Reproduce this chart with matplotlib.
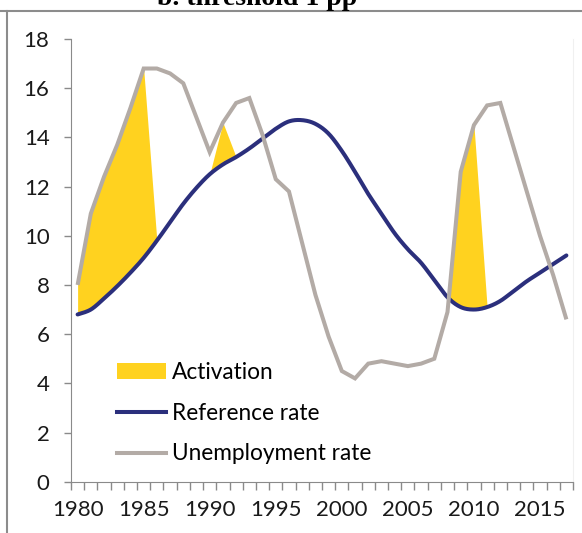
import numpy as np
import matplotlib
matplotlib.use("Agg")
import matplotlib.pyplot as plt
from matplotlib.patches import Patch
from matplotlib.lines import Line2D

# ---------------- data ----------------
years = list(range(1980, 2018))
unemployment = [8.0, 10.9, 12.4, 13.7, 15.2, 16.8, 16.8, 16.6, 16.2, 14.8,
                13.4, 14.6, 15.4, 15.6, 14.1, 12.3, 11.8, 9.7, 7.6, 5.9,
                4.5, 4.2, 4.8, 4.9, 4.8, 4.7, 4.8, 5.0, 6.9, 12.6,
                14.5, 15.3, 15.4, 13.6, 11.8, 10.0, 8.4, 6.6]
reference = [6.8, 7.0, 7.45, 7.95, 8.5, 9.1, 9.8, 10.55, 11.3, 11.95,
             12.5, 12.9, 13.2, 13.55, 13.95, 14.35, 14.65, 14.7, 14.55, 14.15,
             13.45, 12.6, 11.7, 10.9, 10.1, 9.45, 8.9, 8.2, 7.5, 7.1,
             7.0, 7.1, 7.35, 7.75, 8.15, 8.5, 8.85, 9.2]
activation = [1.2, 3.9, 4.95, 5.75, 6.7, 7.7, 0, 0, 0, 0,
              0, 1.7, 0, 0, 0, 0, 0, 0, 0, 0,
              0, 0, 0, 0, 0, 0, 0, 0, 0, 5.5,
              7.5, 0, 0, 0, 0, 0, 0, 0]
xtick_labels = ["1980", "1985", "1990", "1995", "2000", "2005", "2010", "2015"]
yticks = [0, 2, 4, 6, 8, 10, 12, 14, 16, 18]
title = "b. threshold 1 pp"
legend_labels = ["Activation", "Reference rate", "Unemployment rate"]

# ---------------- style ----------------
YELLOW = "#FFD21F"
NAVY = "#2B2F7C"
GRAY = "#B3ABA6"
AXGRAY = "#8A8A8A"
FONT = "Lato"

plt.rcParams["font.family"] = [FONT, "DejaVu Sans"]


def smooth(x, y, n=20):
    """Excel-like smoothed curve via Catmull-Rom Bezier segments."""
    x = np.asarray(x, float)
    y = np.asarray(y, float)
    px, py = [], []
    m = len(x)
    for i in range(m - 1):
        x0, y0 = (x[i - 1], y[i - 1]) if i > 0 else (x[i], y[i])
        x1, y1 = x[i], y[i]
        x2, y2 = x[i + 1], y[i + 1]
        x3, y3 = (x[i + 2], y[i + 2]) if i + 2 < m else (x2, y2)
        c1x, c1y = x1 + (x2 - x0) / 6, y1 + (y2 - y0) / 6
        c2x, c2y = x2 - (x3 - x1) / 6, y2 - (y3 - y1) / 6
        t = np.linspace(0, 1, n, endpoint=(i == m - 2))
        b0 = (1 - t) ** 3
        b1 = 3 * (1 - t) ** 2 * t
        b2 = 3 * (1 - t) * t ** 2
        b3 = t ** 3
        px.append(b0 * x1 + b1 * c1x + b2 * c2x + b3 * x2)
        py.append(b0 * y1 + b1 * c1y + b2 * c2y + b3 * y2)
    return np.concatenate(px), np.concatenate(py)


W, H = 582, 533
fig = plt.figure(figsize=(W / 100, H / 100), dpi=100)
ax = fig.add_axes([71 / W, 1 - 481.7 / H, (573 - 71) / W, (481.7 - 39) / H])

yrs = np.array(years, float)
ref = np.array(reference)
act = np.array(activation)

ax.fill_between(yrs, ref, ref + act, color=YELLOW, linewidth=0, zorder=1)
sx, sy = smooth(yrs, ref)
ax.plot(sx, sy, color=NAVY, lw=2.9, solid_capstyle="round", zorder=2)
ax.plot(yrs, unemployment, color=GRAY, lw=2.9, solid_joinstyle="miter",
        solid_capstyle="butt", zorder=3)

ax.set_xlim(1979.5, 2017.5)
ax.set_ylim(0, 18)

ax.set_yticks(yticks)
ax.set_yticklabels([str(v) for v in yticks])
ax.set_xticks([int(s) for s in xtick_labels])
ax.set_xticklabels(xtick_labels)
ax.set_xticks(np.arange(1979.5, 2018.0, 1.0), minor=True)

ax.tick_params(axis="y", which="major", direction="out", length=5, width=1,
               color=AXGRAY, labelsize=16, pad=10.5, labelcolor="#1a1a1a")
ax.tick_params(axis="x", which="major", length=0, labelsize=16, pad=13.5,
               labelcolor="#1a1a1a")
ax.tick_params(axis="x", which="minor", direction="out", length=6, width=1,
               color=AXGRAY)

ax.spines["top"].set_visible(False)
ax.spines["right"].set_color("#F0F0F0")
ax.spines["left"].set_color(AXGRAY)
ax.spines["bottom"].set_color(AXGRAY)

handles = [Patch(facecolor=YELLOW, edgecolor="none"),
           Line2D([], [], color=NAVY, lw=2.9),
           Line2D([], [], color=GRAY, lw=2.9)]
ax.legend(handles, legend_labels, loc="upper left",
          bbox_to_anchor=(117 / W, 1 - 362 / H), bbox_transform=fig.transFigure,
          frameon=False, fontsize=16.3, handlelength=2.15, handletextpad=0.28,
          labelspacing=0.87, borderpad=0, borderaxespad=0, handleheight=0.65)

# page decorations (title is partly cropped at the top, as in the source)
fig.text(257 / W, 1 - 5 / H, title, ha="center", va="baseline",
         fontsize=20, fontweight="bold", family="Liberation Serif")
fig.add_artist(Line2D([0, 1], [1 - 10.7 / H] * 2, transform=fig.transFigure,
                      color="#8C8C8C", lw=1.5))
fig.add_artist(Line2D([7.3 / W] * 2, [0, 1 - 10.7 / H], transform=fig.transFigure,
                      color="#8C8C8C", lw=1.5))

fig.savefig("out.png", dpi=100)
